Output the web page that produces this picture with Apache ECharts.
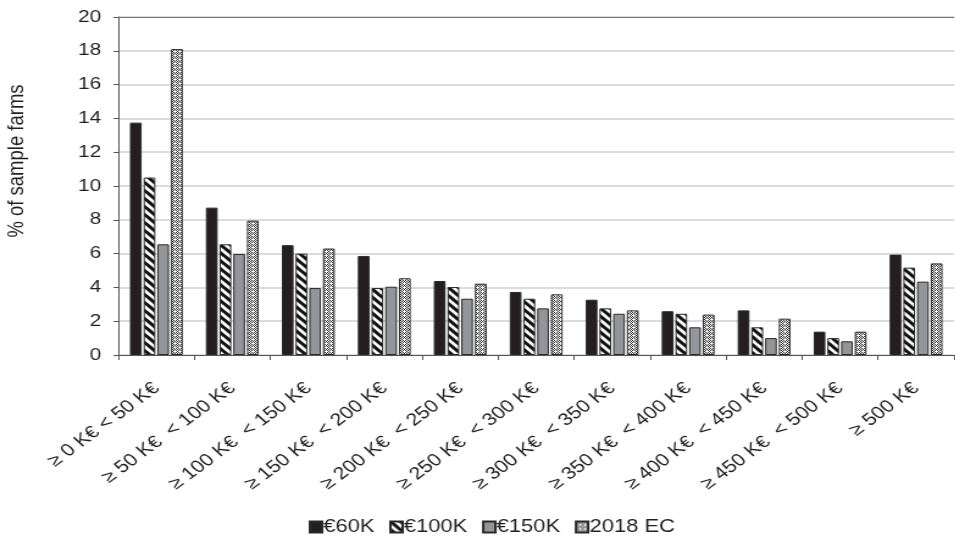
<!DOCTYPE html>
<html>
<head>
<meta charset="utf-8">
<script src="https://cdn.jsdelivr.net/npm/echarts@6/dist/echarts.min.js"></script>
<style>
  html, body { margin: 0; padding: 0; background: #fff; overflow: hidden; }
  #wrap { width: 955px; height: 542px; overflow: hidden; }
  /* the figure is laid out narrower and widened horizontally */
  #chart { width: 783px; height: 542px; transform: scaleX(1.22); transform-origin: 0 0; }
</style>
</head>
<body>
<div id="wrap"><div id="chart"></div></div>
<script>
// Turnover classes of sample farms
const categories = [
  '≥ 0 K€ < 50 K€', '≥ 50 K€  < 100 K€', '≥ 100 K€  < 150 K€', '≥ 150 K€  < 200 K€',
  '≥ 200 K€  < 250 K€', '≥ 250 K€  < 300 K€', '≥ 300 K€  < 350 K€', '≥ 350 K€  < 400 K€',
  '≥ 400 K€  < 450 K€', '≥ 450 K€  < 500 K€', '≥ 500 K€'
];
const seriesNames = ['€60K', '€100K', '€150K', '2018 EC'];
const eur60k  = [13.75, 8.72, 6.5, 5.86, 4.38, 3.73, 3.27, 2.59, 2.64, 1.38, 5.94];
const eur100k = [10.5, 6.55, 6.0, 3.96, 4.02, 3.33, 2.76, 2.44, 1.64, 1.0, 5.17];
const eur150k = [6.55, 5.98, 3.96, 4.04, 3.33, 2.76, 2.44, 1.64, 1.0, 0.81, 4.34];
const ec2018  = [18.1, 7.95, 6.3, 4.54, 4.22, 3.59, 2.64, 2.39, 2.15, 1.38, 5.42];
const yTicks = { min: 0, max: 20, interval: 2 };

// Fill patterns
function hatchPattern() {
  const c = document.createElement('canvas');
  c.width = 8; c.height = 8;
  const g = c.getContext('2d');
  g.fillStyle = '#fff'; g.fillRect(0, 0, 8, 8);
  g.strokeStyle = '#111'; g.lineWidth = 3;
  g.beginPath();
  g.moveTo(-2, -2); g.lineTo(10, 10);
  g.moveTo(-2, 6); g.lineTo(2, 10);
  g.moveTo(6, -2); g.lineTo(10, 2);
  g.stroke();
  return c;
}
function checkPattern() {
  const c = document.createElement('canvas');
  c.width = 4; c.height = 4;
  const g = c.getContext('2d');
  g.fillStyle = '#fff'; g.fillRect(0, 0, 4, 4);
  g.fillStyle = '#333';
  [[0,0],[2,0],[1,1],[3,1],[0,2],[2,2],[1,3]].forEach(p => g.fillRect(p[0], p[1], 1, 1));
  return c;
}

const fills = [
  '#231f20',
  { image: hatchPattern(), repeat: 'repeat' },
  '#939598',
  { image: checkPattern(), repeat: 'repeat' }
];
const dataSets = [eur60k, eur100k, eur150k, ec2018];
const ink = '#231f20';
const axisGrey = '#555';

const chart = echarts.init(document.getElementById('chart'), null, { renderer: 'canvas' });
chart.setOption({
  animation: false,
  backgroundColor: '#fff',
  textStyle: { fontFamily: 'Liberation Sans, Arial, sans-serif' },
  grid: { left: 97, right: 1, top: 17, bottom: 187, containLabel: false, outerBoundsMode: 'none' },
  legend: {
    top: 513,
    left: 248,
    icon: 'rect',
    itemWidth: 10,
    itemHeight: 11,
    itemGap: 12,
    textStyle: { fontSize: 18, color: ink, padding: [0, 0, 0, -4] },
    data: seriesNames
  },
  xAxis: [{
    type: 'category',
    data: categories,
    axisLine: { lineStyle: { color: axisGrey, width: 1.2 } },
    axisTick: { show: true, length: 5, lineStyle: { color: axisGrey } },
    axisLabel: { interval: 0, rotate: 42, fontSize: 17.5, color: ink, margin: 31 }
  }, {
    type: 'category',
    position: 'top',
    data: categories,
    axisLine: { lineStyle: { color: '#777', width: 1.2 } },
    axisTick: { show: false },
    axisLabel: { show: false }
  }],
  yAxis: {
    type: 'value',
    min: yTicks.min, max: yTicks.max, interval: yTicks.interval,
    name: '% of sample farms',
    nameLocation: 'middle',
    nameGap: 74,
    nameTextStyle: { fontSize: 18.5, color: ink, padding: [0, 0, 0, 50] },
    axisLine: { show: true, lineStyle: { color: axisGrey, width: 1 } },
    axisTick: { show: true, length: 4, inside: false, lineStyle: { color: axisGrey } },
    axisLabel: { fontSize: 17, color: ink, margin: 14 },
    splitLine: { lineStyle: { color: '#dcdcdc', width: 2 } }
  },
  series: seriesNames.map((name, i) => ({
    name,
    type: 'bar',
    xAxisIndex: 0,
    data: dataSets[i],
    barWidth: 9.6,
    barGap: '17%',
    itemStyle: { color: fills[i], borderColor: '#2a2a2a', borderWidth: 1 }
  }))
});
</script>
</body>
</html>
